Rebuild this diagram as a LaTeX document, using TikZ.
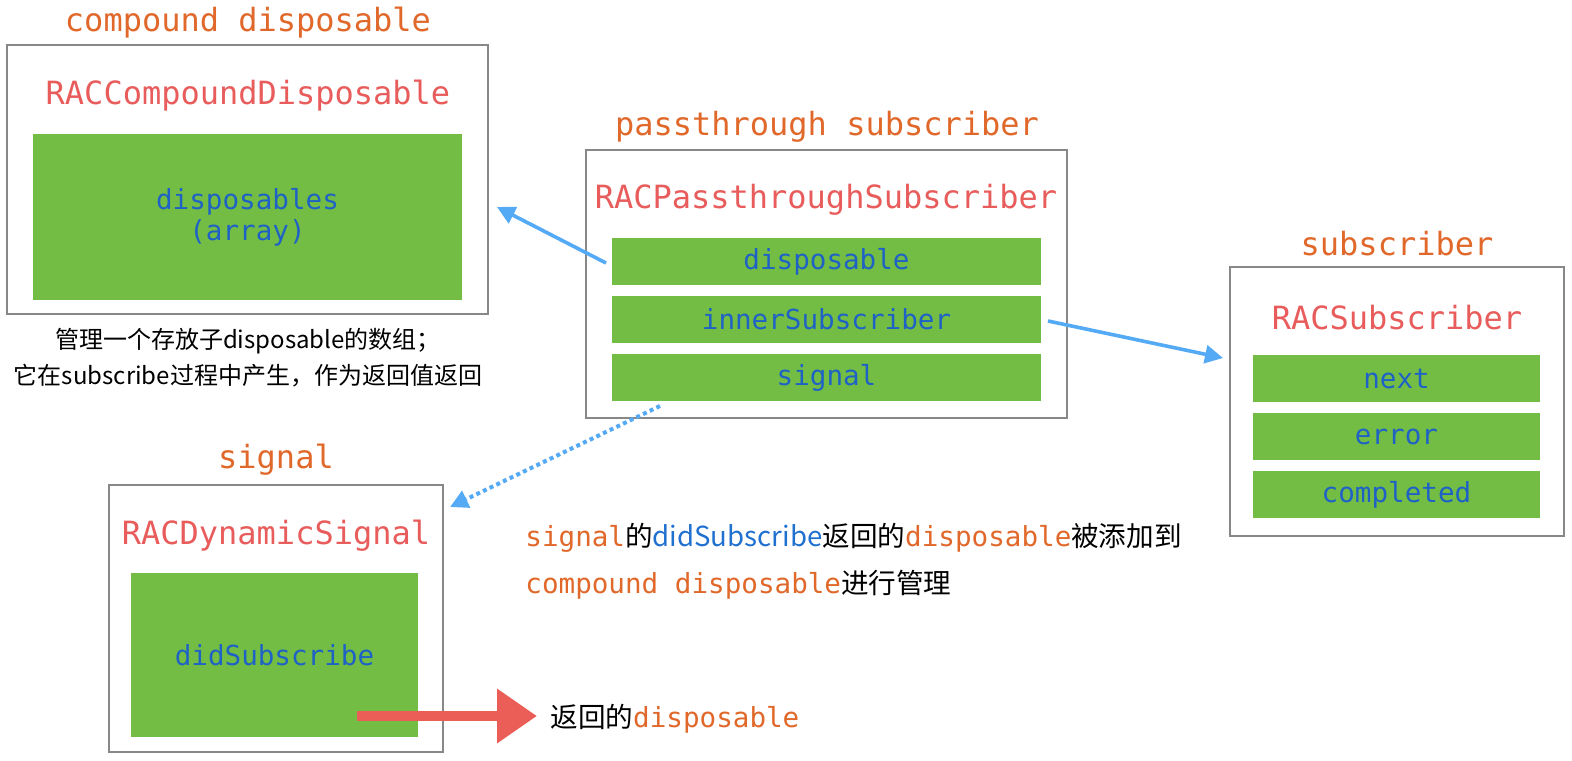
\documentclass[tikz,border=0pt]{standalone}
\usepackage{fontspec}
\setmonofont{DejaVu Sans Mono}
\newfontfamily\cjk{Noto Sans CJK SC}
\usetikzlibrary{arrows.meta}
\definecolor{lbl}{HTML}{E0682A}
\definecolor{ttl}{HTML}{E85C5C}
\definecolor{grn}{HTML}{74BD45}
\definecolor{fld}{HTML}{1E62C6}
\definecolor{bord}{HTML}{888888}
\definecolor{arr}{HTML}{55AAF5}
\definecolor{redarr}{HTML}{EB5E58}
\definecolor{sblue}{HTML}{2070D0}
\tikzset{
  lbl/.style={text=lbl, font=\ttfamily\fontsize{16}{19}\selectfont, inner sep=0pt},
  ttl/.style={text=ttl, font=\ttfamily\fontsize{16}{19}\selectfont, inner sep=0pt},
  fieldbox/.style={fill=grn, text=fld, font=\ttfamily\fontsize{13.8}{15.5}\selectfont, inner sep=0pt, align=center},
  outer/.style={draw=bord, line width=1pt, inner sep=0pt},
  blue arrow/.style={draw=arr, line width=1.8pt, -{Triangle[length=9pt,width=9pt]}},
  dotted arrow/.style={draw=arr, line width=2pt, dash pattern=on 2pt off 1.7pt, -{Triangle[length=9pt,width=9pt]}},
  note/.style={font=\cjk\fontsize{12}{18}\selectfont, align=center, inner sep=0pt},
  body/.style={font=\ttfamily\fontsize{13.8}{16}\selectfont, inner sep=0pt, anchor=west},
}
\begin{document}
\begin{tikzpicture}[x=0.5pt,y=-0.5pt]
\useasboundingbox (0,0) rectangle (1572,760);
% compound disposable
\node[outer, minimum width=240.5pt, minimum height=134.5pt] (cbox) at (247.5,179.5) {};
\node[lbl] (clbl) at (248,23) {compound disposable};
\node[ttl] (cttl) at (248,96) {RACCompoundDisposable};
\node[fieldbox, minimum width=214.5pt, minimum height=83pt] (cdisp) at (247.5,217) {disposables\\(array)};
\node[note] (cnote) at (248,358) {管理一个存放子disposable的数组；\\它在subscribe过程中产生，作为返回值返回};
% passthrough subscriber
\node[outer, minimum width=240.5pt, minimum height=134pt] (pbox) at (826.5,284) {};
\node[lbl] (plbl) at (827,127) {passthrough subscriber};
\node[ttl] (pttl) at (826,200) {RACPassthroughSubscriber};
\node[fieldbox, minimum width=214.5pt, minimum height=23.5pt] (pdisp) at (826.5,261.5) {disposable};
\node[fieldbox, minimum width=214.5pt, minimum height=23.5pt] (pinner) at (826.5,319.5) {innerSubscriber};
\node[fieldbox, minimum width=214.5pt, minimum height=23.5pt] (psig) at (826.5,377.5) {signal};
% subscriber
\node[outer, minimum width=167pt, minimum height=134.5pt] (sbox) at (1397,401.5) {};
\node[lbl] (slbl) at (1397,244) {subscriber};
\node[ttl] (sttl) at (1397,318) {RACSubscriber};
\node[fieldbox, minimum width=143.5pt, minimum height=23.5pt] (snext) at (1396.5,378.5) {next};
\node[fieldbox, minimum width=143.5pt, minimum height=23.5pt] (serr) at (1396.5,436.5) {error};
\node[fieldbox, minimum width=143.5pt, minimum height=23.5pt] (scomp) at (1396.5,494.5) {completed};
% signal
\node[outer, minimum width=167pt, minimum height=133.5pt] (gbox) at (276,618.5) {};
\node[lbl] (glbl) at (276,460) {signal};
\node[ttl] (gttl) at (276,536) {RACDynamicSignal};
\node[fieldbox, minimum width=143.5pt, minimum height=82pt] (gdid) at (274.5,655) {didSubscribe};
% texts
\node[body] (t1) at (525,538) {\color{lbl}signal\color{black}\cjk 的\color{sblue}didSubscribe\color{black}返回的\ttfamily\color{lbl}disposable\color{black}\cjk 被添加到};
\node[body] (t2) at (525,585) {\color{lbl}compound disposable\color{black}\cjk 进行管理};
\node[body] (ret) at (550,719) {\cjk 返回的\ttfamily\color{lbl}disposable};
% connectors
\coordinate (a1s) at (606,263);
\coordinate (a1e) at (497,207);
\draw[blue arrow] (a1s) -- (a1e);
\coordinate (a2s) at (1048,321);
\coordinate (a2e) at (1223,358);
\draw[blue arrow] (a2s) -- (a2e);
\coordinate (a3s) at (660,406);
\coordinate (a3e) at (450,507);
\draw[dotted arrow] (a3s) -- (a3e);
\coordinate (ra) at (357,716);
\coordinate (rb) at (537,716);
\draw[draw=redarr, line width=5pt, -{Triangle[length=20pt,width=26pt]}] (ra) -- (rb);
\end{tikzpicture}
\end{document}
